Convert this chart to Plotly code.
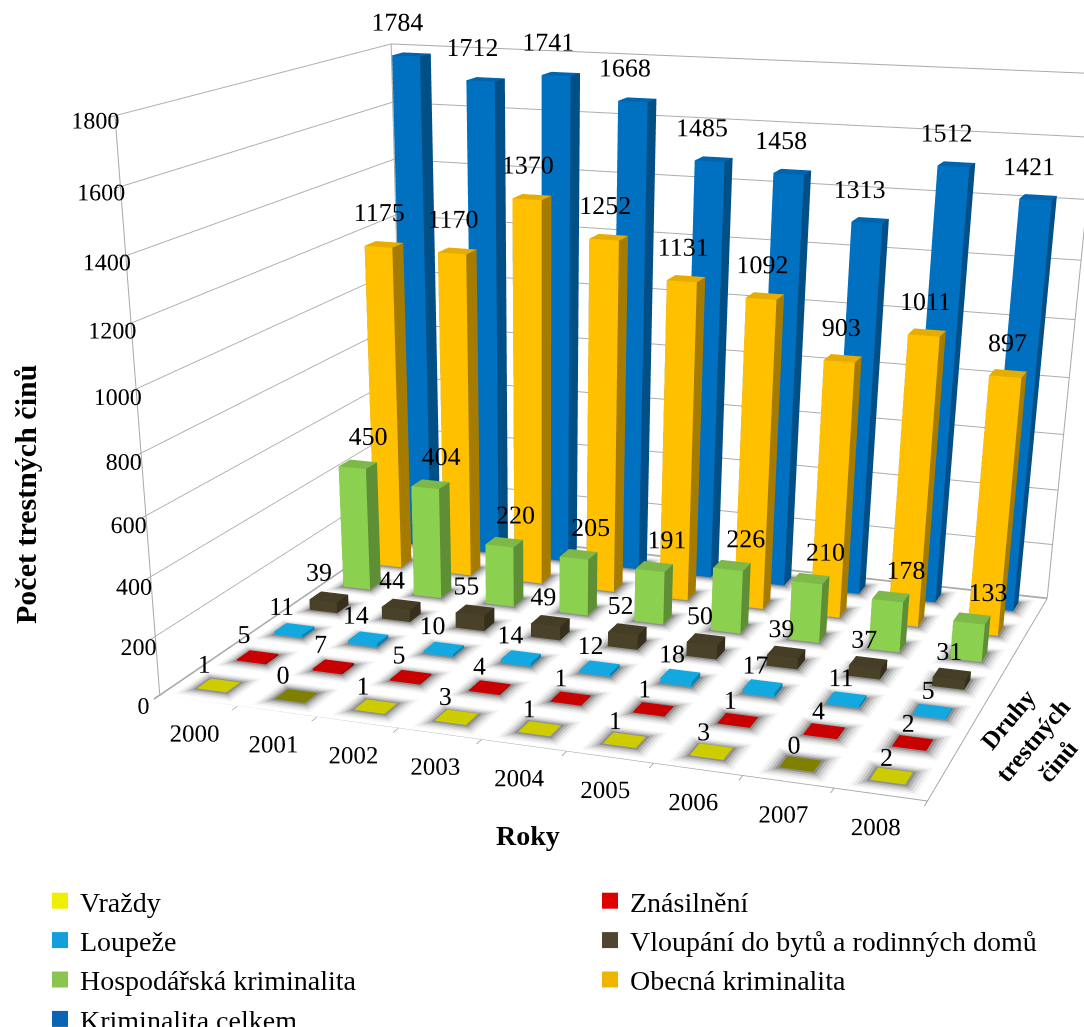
import numpy as np
import plotly.graph_objects as go

# Chart data: recorded crimes per year and offence type
years = ["2000", "2001", "2002", "2003", "2004", "2005", "2006", "2007", "2008"]
series = ["Vraždy", "Znásilnění", "Loupeže", "Vloupání do bytů a rodinných domů",
          "Hospodářská kriminalita", "Obecná kriminalita", "Kriminalita celkem"]
vrazdy = [1, 0, 1, 3, 1, 1, 3, 0, 2]
znasilneni = [5, 7, 5, 4, 1, 1, 1, 4, 2]
loupeze = [11, 14, 10, 14, 12, 18, 17, 11, 5]
vloupani = [39, 44, 55, 49, 52, 50, 39, 37, 31]
hospodarska = [450, 404, 220, 205, 191, 226, 210, 178, 133]
obecna = [1175, 1170, 1370, 1252, 1131, 1092, 903, 1011, 897]
celkem = [1784, 1712, 1741, 1668, 1485, 1458, 1313, 1512, 1421]
values = [vrazdy, znasilneni, loupeze, vloupani, hospodarska, obecna, celkem]
z_ticks = [0, 200, 400, 600, 800, 1000, 1200, 1400, 1600, 1800]

# Face colours per series: front, side, top
front = ["#D6D600", "#D00000", "#1AA5DC", "#4A4228", "#8CD050", "#FFC000", "#0070C0"]
side = ["#A0A000", "#900000", "#1080B0", "#362F1C", "#5F8F35", "#A67C00", "#004F87"]
top = ["#CCCC00", "#C80000", "#12A8E0", "#453D26", "#7DB848", "#E6AD00", "#0065AE"]
zero_top = "#808000"
marker_cols = ["#EFEF00", "#E00000", "#12A0DC", "#4E4630", "#8CC450", "#F0B400", "#0A66B4"]
# Value label placement relative to the bar centre, per series
label_dx = [.05, .05, .05, .05, .25, .03, -.05]
label_dy = [-.45, -.45, -.45, -.4, -.25, -.2, -.3]
# Legend column for each series
legend_col = ["legend", "legend2", "legend", "legend2", "legend", "legend2", "legend"]

# The tall figure narrows the scene's fixed field of view; only its top part is on the page
W, H = 1084, 2000
BW, BD = .19, .17
Z_FLOOR = -3
FONT = "Liberation Serif"
nx, ny = len(years), len(series)


def px(x):
    return x / W


def py(y):
    return 1 - y / H


def box(x0, x1, y0, y1, z0, z1, c_front, c_side, c_top, mesh):
    vs, fs, cs = mesh
    b = len(vs)
    vs += [(x0, y0, z0), (x1, y0, z0), (x1, y1, z0), (x0, y1, z0),
           (x0, y0, z1), (x1, y0, z1), (x1, y1, z1), (x0, y1, z1)]
    quads = [((0, 1, 5, 4), c_front), ((1, 2, 6, 5), c_side), ((4, 5, 6, 7), c_top),
             ((3, 0, 4, 7), c_side), ((2, 3, 7, 6), c_side)]
    for (a, e, f, g), col in quads:
        fs += [(b + a, b + e, b + f), (b + a, b + f, b + g)]
        cs += [col, col]


def mesh3d(mesh, **kw):
    vs, fs, cs = mesh
    v = np.array(vs)
    f = np.array(fs)
    return go.Mesh3d(x=v[:, 0], y=v[:, 1], z=v[:, 2], i=f[:, 0], j=f[:, 1], k=f[:, 2],
                     facecolor=cs, flatshading=True, showlegend=False, hoverinfo="skip",
                     lighting=dict(ambient=1, diffuse=0, specular=0, roughness=1, fresnel=0), **kw)


fig = go.Figure()

# Soft floor shadow built from nested grey rectangles beneath each bar
shadow_steps = [(1.0, "#F5F5F5"), (.8, "#E6E6E6"), (.6, "#D0D0D0"), (.4, "#B4B4B4"), (.2, "#909090")]
sh = ([], [], [])
for k, (grow, col) in enumerate(shadow_steps):
    z = Z_FLOOR + .5 * (k + 1)
    for j in range(ny):
        for i in range(nx):
            mx, my = .17 * grow, .22 * grow
            box(i + .5 - BW - mx, i + .5 + BW + mx, j + .5 - BD - my, j + .5 + BD + my,
                z, z, col, col, col, sh)
fig.add_trace(mesh3d(sh))

# Bars
for j in range(ny):
    m = ([], [], [])
    for i, v in enumerate(values[j]):
        c_top = zero_top if v == 0 else top[j]
        box(i + .5 - BW, i + .5 + BW, j + .5 - BD, j + .5 + BD, 0, v,
            front[j], side[j], c_top, m)
    fig.add_trace(mesh3d(m, name=series[j]))

# Outline of the floor and the two walls
ex, ey, ez = [], [], []
for a, b in [((0, 0, Z_FLOOR), (nx, 0, Z_FLOOR)), ((nx, 0, Z_FLOOR), (nx, ny, Z_FLOOR)),
             ((nx, ny, Z_FLOOR), (0, ny, Z_FLOOR)), ((0, ny, Z_FLOOR), (0, 0, Z_FLOOR)),
             ((0, 0, Z_FLOOR), (0, 0, z_ticks[-1])), ((0, ny, Z_FLOOR), (0, ny, z_ticks[-1])),
             ((nx, ny, Z_FLOOR), (nx, ny, z_ticks[-1])),
             ((0, 0, z_ticks[-1]), (0, ny, z_ticks[-1])), ((0, ny, z_ticks[-1]), (nx, ny, z_ticks[-1]))]:
    ex += [a[0], b[0], None]
    ey += [a[1], b[1], None]
    ez += [a[2], b[2], None]
fig.add_trace(go.Scatter3d(x=ex, y=ey, z=ez, mode="lines", line=dict(color="#A8A8A8", width=2),
                           showlegend=False, hoverinfo="skip"))

# Value labels above each bar
for j in range(ny):
    fig.add_trace(go.Scatter3d(
        x=[i + .5 + label_dx[j] for i in range(nx)], y=[j + .5 + label_dy[j]] * nx, z=values[j],
        mode="text", text=[str(v) for v in values[j]], textposition="top center",
        textfont=dict(family=FONT, size=26, color="#000000"), showlegend=False, hoverinfo="skip"))

# Year labels hang below the front edge of the floor, centred on each category
fig.add_trace(go.Scatter3d(
    x=[i + .45 for i in range(nx)], y=[0] * nx, z=[Z_FLOOR] * nx,
    mode="text", text=years, textposition="bottom center",
    textfont=dict(family=FONT, size=25, color="#000000"), showlegend=False, hoverinfo="skip"))

# Legend entries
for j in range(ny):
    fig.add_trace(go.Scatter3d(x=[None], y=[None], z=[None], mode="markers", name=series[j], legend=legend_col[j],
                               marker=dict(symbol="square", size=16, color=marker_cols[j])))

axis_common = dict(showbackground=False, showspikes=False, zeroline=False, title=dict(text=""))
legend_style = dict(xanchor="left", yanchor="top", font=dict(family=FONT, size=28), itemsizing="trace",
                    itemwidth=30, bgcolor="rgba(0,0,0,0)", tracegroupgap=0, traceorder="normal")
fig.update_layout(
    width=W, height=H, margin=dict(l=0, r=0, t=0, b=0), paper_bgcolor="white",
    font=dict(family=FONT, color="#000000"),
    hovermode=False,
    legend=dict(x=px(40), y=py(876), **legend_style),
    legend2=dict(x=px(590), y=py(876), **legend_style),
    scene=dict(
        domain=dict(x=[0, 1], y=[0, 1]), aspectmode="manual",
        aspectratio=dict(x=1.4171, y=1.1246, z=1),
        camera=dict(eye=dict(x=1.3918, y=-4.2152, z=1.0406), center=dict(x=-.001, y=-.4679, z=-1.043),
                    up=dict(x=0, y=0, z=1)),
        xaxis=dict(range=[0, nx], tickvals=list(range(nx + 1)), showticklabels=False, showgrid=False,
                   ticks="outside", ticklen=30, tickwidth=2, tickcolor="#A0A0A0", **axis_common),
        yaxis=dict(range=[0, ny], showgrid=False, showticklabels=False, ticks="", **axis_common),
        zaxis=dict(range=[Z_FLOOR, z_ticks[-1]], tickvals=z_ticks, ticktext=[str(t) for t in z_ticks],
                   showgrid=True, gridcolor="#ADADAD", gridwidth=2, ticks="outside", ticklen=30, tickwidth=2,
                   tickcolor="#A0A0A0", tickangle=0, tickfont=dict(family=FONT, size=17), **axis_common),
    ),
    annotations=[
        dict(text="<b>Počet trestných činů</b>", x=px(25), y=py(495), textangle=-90, showarrow=False,
             xanchor="center", yanchor="middle", font=dict(family=FONT, size=30, color="#000000")),
        dict(text="<b>Roky</b>", x=px(528), y=py(836), showarrow=False,
             xanchor="center", yanchor="middle", font=dict(family=FONT, size=28, color="#000000")),
        dict(text="<b>Druhy</b><br><b>trestných</b><br><b>činů</b>", x=px(1033), y=py(740), textangle=-50,
             showarrow=False, xanchor="center", yanchor="middle",
             font=dict(family=FONT, size=25, color="#000000")),
    ],
)

fig.write_html("out.html")
